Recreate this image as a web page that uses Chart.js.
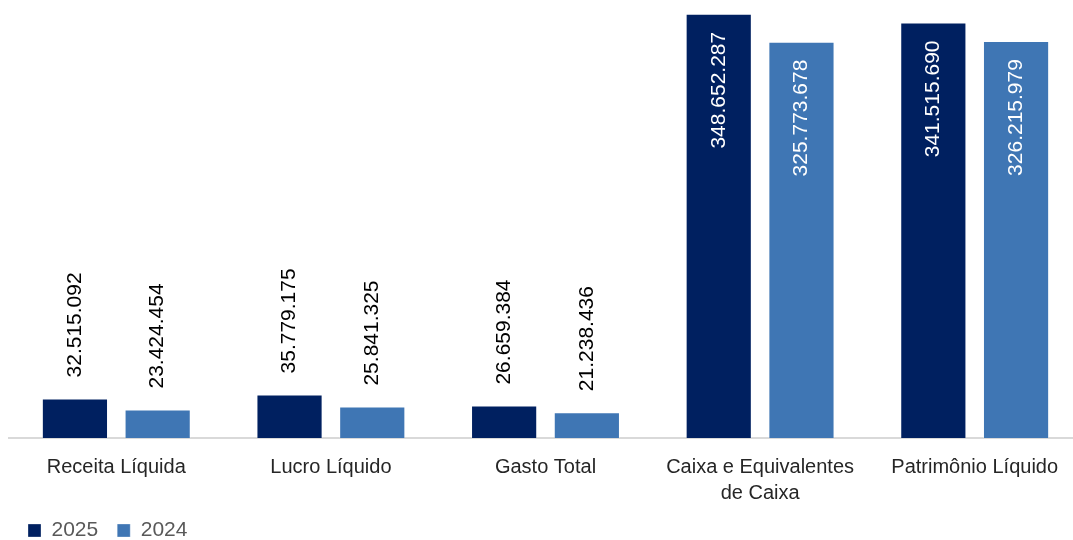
<!DOCTYPE html>
<html>
<head>
<meta charset="utf-8">
<script src="https://cdn.jsdelivr.net/npm/chart.js@4.4.1/dist/chart.umd.min.js"></script>
<style>
  html, body { margin: 0; padding: 0; background: #fff; overflow: hidden; }
  #myChart { display: block; }
</style>
</head>
<body>
<canvas id="myChart" width="1082" height="540"></canvas>
<script>
// categories and series
const categories = [
  'Receita Líquida',
  'Lucro Líquido',
  'Gasto Total',
  ['Caixa e Equivalentes', 'de Caixa'],
  'Patrimônio Líquido'
];
const values2025 = [32515092, 35779175, 26659384, 348652287, 341515690];
const values2024 = [23424454, 25841325, 21238436, 325773678, 326215979];
const seriesLabels = ['2025', '2024'];

const darkBlue = '#002060';
const lightBlue = '#3F76B4';
const fontFamily = '"Liberation Sans", Arial, sans-serif';

// 32515092 -> "32.515.092"
const fmt = v => String(v).replace(/\B(?=(\d{3})+(?!\d))/g, '.');

const barLabels = {
  id: 'barLabels',
  afterDatasetsDraw(chart) {
    const ctx = chart.ctx;
    ctx.save();
    ctx.font = '21px ' + fontFamily;
    ctx.textBaseline = 'middle';
    chart.data.datasets.forEach((ds, di) => {
      const meta = chart.getDatasetMeta(di);
      meta.data.forEach((bar, i) => {
        const txt = fmt(ds.data[i]);
        const w = ctx.measureText(txt).width;
        const h = bar.base - bar.y;
        ctx.save();
        if (h > w + 40) {
          // inside end, white
          ctx.translate(bar.x, bar.y + 18);
          ctx.rotate(-Math.PI / 2);
          ctx.textAlign = 'right';
          ctx.fillStyle = '#ffffff';
        } else {
          // outside end, black
          ctx.translate(bar.x, bar.y - 21);
          ctx.rotate(-Math.PI / 2);
          ctx.textAlign = 'left';
          ctx.fillStyle = '#000000';
        }
        ctx.fillText(txt, 0, 0);
        ctx.restore();
      });
    });
    ctx.restore();
  }
};

// legend.update() never calls afterFit, so wrap fit() to pin its height
const legendHeight = {
  id: 'legendHeight',
  afterInit(chart) {
    const lg = chart.legend;
    const origFit = lg.fit;
    lg.fit = function () {
      origFit.call(this);
      this.height = 39;
    };
  }
};

const ctx = document.getElementById('myChart').getContext('2d');
const myChart = new Chart(ctx, {
  type: 'bar',
  data: {
    labels: categories,
    datasets: [
      {
        label: seriesLabels[0],
        data: values2025,
        backgroundColor: darkBlue,
        borderColor: 'rgba(255,255,255,0.3)',
        borderWidth: 1,
        categoryPercentage: 0.771,
        barPercentage: 0.8
      },
      {
        label: seriesLabels[1],
        data: values2024,
        backgroundColor: lightBlue,
        borderColor: 'rgba(255,255,255,0.3)',
        borderWidth: 1,
        categoryPercentage: 0.771,
        barPercentage: 0.8
      }
    ]
  },
  options: {
    responsive: false,
    animation: false,
    layout: { padding: { left: 9, right: 0, top: 0, bottom: 0 } },
    plugins: {
      tooltip: { enabled: false },
      legend: {
        position: 'bottom',
        align: 'start',
        labels: {
          boxWidth: 13,
          boxHeight: 13,
          padding: 19,
          color: '#595959',
          font: { family: fontFamily, size: 21 }
        }
      }
    },
    scales: {
      x: {
        grid: { display: false, drawTicks: false },
        border: { display: true, color: '#d9d9d9', width: 2 },
        ticks: {
          color: '#262626',
          padding: 16,
          maxRotation: 0,
          autoSkip: false,
          font: { family: fontFamily, size: 20, lineHeight: 1.3 }
        },
        afterFit(scale) {
          scale.height = 63;
          // let the second line of a two-line label run past the scale box
          scale._computeLabelArea = () => undefined;
        }
      },
      y: {
        display: false,
        min: 0,
        max: 360000000
      }
    }
  },
  plugins: [barLabels, legendHeight]
});
</script>
</body>
</html>
